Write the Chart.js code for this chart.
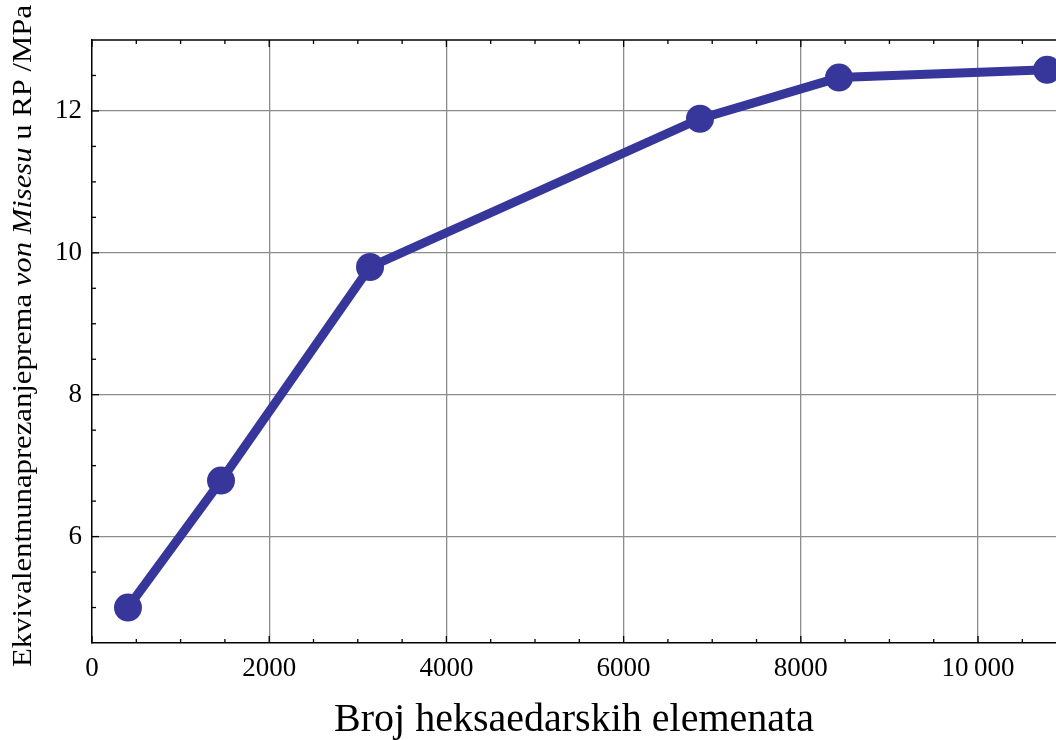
<!DOCTYPE html>
<html>
<head>
<meta charset="utf-8">
<script src="https://cdn.jsdelivr.net/npm/chart.js@4"></script>
<style>
  body { margin: 0; background: #fff; }
  #okvir { width: 1056px; height: 740px; }
</style>
</head>
<body>
<div id="okvir"><canvas id="grafico"></canvas></div>
<script>
// podaci
const brojElemenata = [406, 1456, 3138, 6862, 8431, 10779];
const naprezanje = [5.0, 6.79, 9.80, 11.89, 12.47, 12.58];
const xGlavneOznake = [0, 2000, 4000, 6000, 8000, 10000];
const yGlavneOznake = [6, 8, 10, 12];

const naslovX = 'Broj heksaedarskih elemenata';
const naslovY = [
    ['Ekvivalentnunaprezanjeprema ', 'normal'],
    ['von Misesu', 'italic'],
    [' u RP /MPa', 'normal']
];

const boja = '#37379b';
const serif = '"Liberation Serif", "Times New Roman", serif';

const datiGrafico = brojElemenata.map((x, i) => ({ x: x, y: naprezanje[i] }));

// sitne crtice + gornji rub + naslov y osi
const okvirPlugin = {
    id: 'okvir',
    afterDraw(chart) {
        const ctx = chart.ctx;
        const a = chart.chartArea;
        const sx = chart.scales.x, sy = chart.scales.y;
        ctx.save();
        ctx.strokeStyle = '#000';
        ctx.lineWidth = 1.5;
        ctx.beginPath();
        ctx.moveTo(a.left, a.top);
        ctx.lineTo(a.right, a.top);
        ctx.stroke();

        ctx.lineWidth = 1.3;
        for (let v = 0; v <= 10500; v += 500) {
            const px = sx.getPixelForValue(v);
            const d = xGlavneOznake.includes(v) ? 7 : 4;
            ctx.beginPath();
            ctx.moveTo(px, a.bottom); ctx.lineTo(px, a.bottom - d);
            ctx.moveTo(px, a.top); ctx.lineTo(px, a.top + d);
            ctx.stroke();
        }
        for (let v = 5; v <= 12.5; v += 0.5) {
            const py = sy.getPixelForValue(v);
            const d = yGlavneOznake.includes(v) ? 7 : 4;
            ctx.beginPath();
            ctx.moveTo(a.left, py); ctx.lineTo(a.left + d, py);
            ctx.stroke();
        }

        // naslov y osi (djelomicno kurziv)
        const vel = 27;
        let ukupno = 0;
        naslovY.forEach(d => {
            ctx.font = d[1] + ' ' + vel + 'px ' + serif;
            ukupno += ctx.measureText(d[0]).width;
        });
        const cilj = 662;
        const k = cilj / ukupno;
        ctx.translate(24, 336);
        ctx.rotate(-Math.PI / 2);
        ctx.scale(k, 1);
        ctx.fillStyle = '#000';
        ctx.textBaseline = 'middle';
        let x = -ukupno / 2;
        naslovY.forEach(d => {
            ctx.font = d[1] + ' ' + vel + 'px ' + serif;
            ctx.fillText(d[0], x, 0);
            x += ctx.measureText(d[0]).width;
        });
        ctx.restore();
    }
};

const canvas = document.getElementById('grafico').getContext('2d');

const grafico = new Chart(canvas, {
    type: 'line',
    data: {
        datasets: [{
            data: datiGrafico,
            borderColor: boja,
            backgroundColor: boja,
            borderWidth: 9,
            pointRadius: 14,
            pointHoverRadius: 14,
            pointBorderWidth: 0,
            fill: false,
            clip: false
        }]
    },
    options: {
        animation: false,
        responsive: true,
        maintainAspectRatio: false,
        layout: { autoPadding: false, padding: { top: 40, right: 0, left: 0, bottom: 0 } },
        plugins: { legend: { display: false }, tooltip: { enabled: false } },
        scales: {
            x: {
                type: 'linear',
                position: 'bottom',
                min: 0,
                max: 10880,
                afterFit: s => { s.height = 97; s.paddingLeft = 0; s.paddingRight = 0; },
                afterBuildTicks: s => { s.ticks = xGlavneOznake.map(v => ({ value: v })); },
                border: { color: '#000', width: 1.5 },
                grid: {
                    color: c => c.tick && c.tick.value > 0 ? '#8c8c8c' : 'transparent',
                    lineWidth: 1.3,
                    drawTicks: false
                },
                ticks: {
                    autoSkip: false,
                    maxRotation: 0,
                    padding: 10,
                    color: '#000',
                    font: { family: serif, size: 27 },
                    callback: v => v >= 10000 ? String(v).replace(/(\d)(\d{3})$/, '$1\u2009$2') : String(v)
                },
                title: {
                    display: true,
                    text: naslovX,
                    color: '#000',
                    font: { family: serif, size: 40, lineHeight: 1.0 },
                    padding: { top: 0, bottom: 0 }
                }
            },
            y: {
                min: 4.5,
                max: 13,
                afterFit: s => { s.width = 92; s.paddingTop = 0; s.paddingBottom = 0; },
                afterBuildTicks: s => { s.ticks = yGlavneOznake.map(v => ({ value: v })); },
                border: { color: '#000', width: 1.5 },
                grid: {
                    color: '#8c8c8c',
                    lineWidth: 1.3,
                    drawTicks: false
                },
                ticks: {
                    padding: 10,
                    color: '#000',
                    font: { family: serif, size: 27 }
                }
            }
        }
    },
    plugins: [okvirPlugin]
});
</script>
</body>
</html>
